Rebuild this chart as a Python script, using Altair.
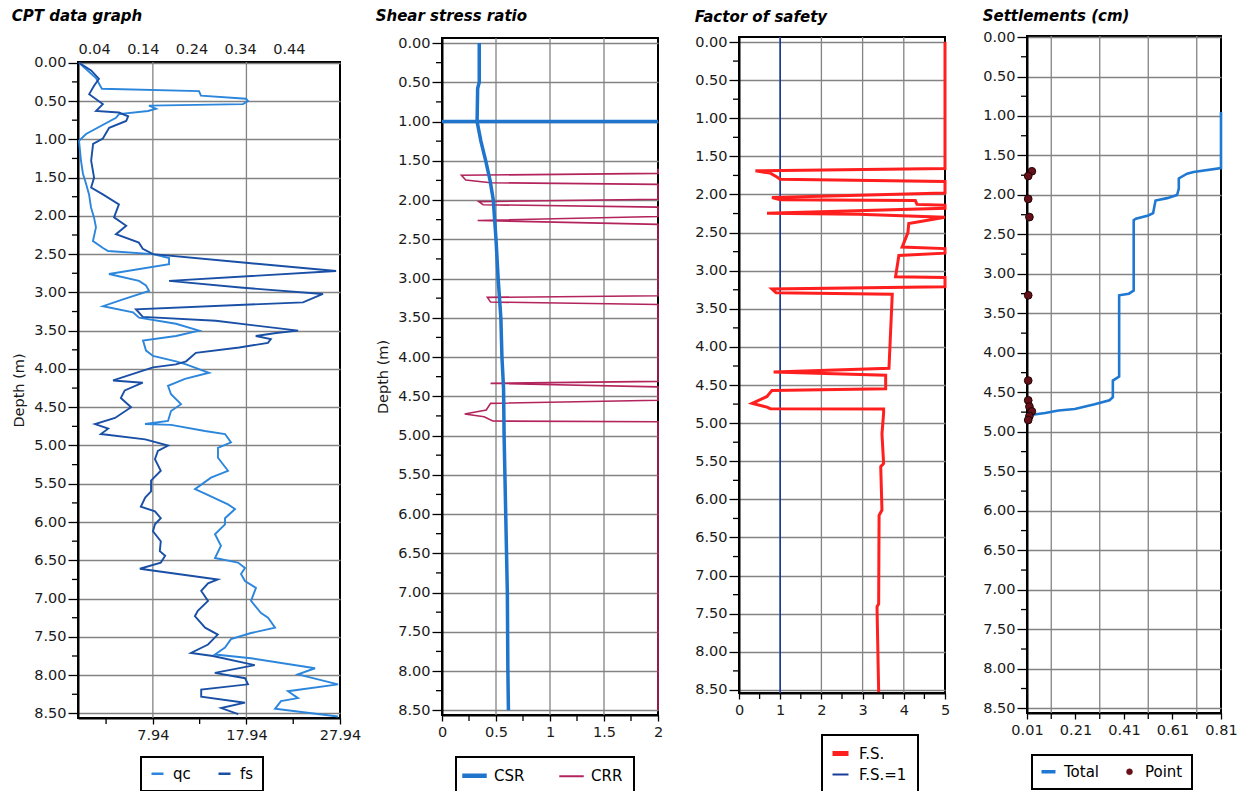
import altair as alt
import pandas as pd

FONT = "DejaVu Sans"
GRID = "#838383"

# ---------------- shared depth ticks ----------------
depth_major = [0.0, 0.5, 1.0, 1.5, 2.0, 2.5, 3.0, 3.5, 4.0, 4.5, 5.0, 5.5, 6.0, 6.5, 7.0, 7.5, 8.0, 8.5]
depth_minor = [0.25, 0.75, 1.25, 1.75, 2.25, 2.75, 3.25, 3.75, 4.25, 4.75, 5.25, 5.75, 6.25, 6.75, 7.25, 7.75, 8.25]

# ---------------- CPT data graph ----------------
qc_depth = [0.00, 0.20, 0.32, 0.34, 0.37, 0.43, 0.47, 0.50, 0.54, 0.56, 0.60, 0.63, 0.67, 0.72, 0.93, 1.02, 1.28, 1.45,
            1.58, 1.72, 1.89, 2.02, 2.15, 2.33, 2.42, 2.46, 2.50, 2.55, 2.63, 2.76, 2.85, 2.91, 2.98, 3.09, 3.18, 3.26,
            3.33, 3.41, 3.50, 3.57, 3.63, 3.76, 3.83, 3.90, 3.94, 4.05, 4.13, 4.22, 4.33, 4.46, 4.55, 4.68, 4.72, 4.73,
            4.81, 4.85, 4.96, 5.03, 5.16, 5.33, 5.42, 5.57, 5.63, 5.77, 5.83, 5.95, 6.03, 6.16, 6.31, 6.47, 6.53, 6.60,
            6.68, 6.77, 6.86, 7.03, 7.19, 7.25, 7.38, 7.45, 7.53, 7.64, 7.73, 7.78, 7.91, 7.99, 8.12, 8.21, 8.30, 8.34,
            8.44, 8.54]
qc_value = [0.05, 1.86, 2.40, 2.50, 12.87, 13.08, 17.89, 18.11, 17.57, 7.53, 8.28, 7.42, 4.32, 4.00, 0.80, 0.05, 0.26,
            0.47, 0.80, 1.12, 1.33, 1.65, 1.86, 1.54, 2.61, 3.15, 7.95, 9.67, 9.67, 3.25, 6.46, 7.21, 7.53, 4.75, 2.61,
            5.82, 6.46, 10.41, 12.87, 10.41, 6.89, 7.21, 7.96, 10.41, 11.48, 13.94, 11.37, 9.56, 9.88, 10.95, 9.88,
            9.56, 7.10, 9.88, 13.51, 15.65, 16.29, 14.90, 14.90, 15.97, 14.15, 12.44, 13.51, 15.97, 16.72, 15.65,
            15.65, 14.58, 15.22, 14.58, 17.04, 17.79, 17.36, 17.79, 18.96, 18.43, 19.50, 20.25, 21.00, 18.43, 16.29,
            15.65, 14.58, 18.43, 25.27, 23.45, 27.73, 22.38, 23.45, 21.63, 21.00, 27.73]
fs_depth = [0.00, 0.10, 0.21, 0.30, 0.41, 0.54, 0.63, 0.65, 0.70, 0.76, 0.85, 0.99, 1.06, 1.28, 1.50, 1.63, 1.72, 1.85,
            2.02, 2.13, 2.24, 2.35, 2.43, 2.50, 2.61, 2.72, 2.85, 2.94, 3.02, 3.13, 3.22, 3.32, 3.37, 3.50, 3.53, 3.57,
            3.61, 3.66, 3.72, 3.79, 3.90, 3.94, 3.98, 4.15, 4.18, 4.28, 4.38, 4.50, 4.64, 4.72, 4.78, 4.85, 4.92, 5.00,
            5.07, 5.18, 5.33, 5.46, 5.60, 5.68, 5.80, 5.86, 5.95, 6.03, 6.12, 6.25, 6.38, 6.44, 6.53, 6.61, 6.75, 6.80,
            6.90, 7.03, 7.16, 7.23, 7.38, 7.47, 7.60, 7.71, 7.75, 7.87, 7.97, 8.04, 8.12, 8.19, 8.28, 8.36, 8.43, 8.51]
fs_value = [0.009, 0.034, 0.050, 0.040, 0.030, 0.058, 0.044, 0.091, 0.110, 0.106, 0.071, 0.058, 0.038, 0.034, 0.040,
            0.034, 0.058, 0.091, 0.081, 0.106, 0.085, 0.132, 0.140, 0.161, 0.346, 0.537, 0.194, 0.346, 0.510, 0.469,
            0.126, 0.140, 0.290, 0.459, 0.414, 0.372, 0.403, 0.397, 0.338, 0.249, 0.229, 0.208, 0.161, 0.079, 0.140,
            0.103, 0.095, 0.116, 0.083, 0.042, 0.069, 0.054, 0.145, 0.192, 0.171, 0.165, 0.177, 0.157, 0.157, 0.145,
            0.136, 0.165, 0.177, 0.165, 0.161, 0.177, 0.175, 0.186, 0.177, 0.134, 0.294, 0.274, 0.260, 0.274, 0.253,
            0.247, 0.268, 0.294, 0.274, 0.239, 0.284, 0.370, 0.288, 0.350, 0.356, 0.260, 0.260, 0.350, 0.301, 0.336]
qc_domain = [-0.06, 27.94]
qc_ticks = [7.94, 17.94, 27.94]
qc_minor = [2.94, 12.94, 22.94]
qc_grid = [7.94, 17.94]
fs_domain = [0.007, 0.545]
fs_ticks = [0.04, 0.14, 0.24, 0.34, 0.44]

# ---------------- Shear stress ratio ----------------
csr_depth = [0.00, 0.50, 0.58, 1.00, 1.25, 1.50, 1.75, 2.00, 2.30, 2.50, 3.00, 3.50, 4.00, 4.40, 5.00, 6.00, 7.00, 8.00, 8.50]
csr_value = [0.345, 0.345, 0.33, 0.325, 0.36, 0.405, 0.445, 0.475, 0.49, 0.50, 0.52, 0.545, 0.555, 0.57, 0.575, 0.59,
             0.605, 0.61, 0.615]
crr_depth = [1.60, 1.66, 1.685, 1.745, 1.78, 1.80, 1.99, 2.02, 2.06, 2.09, 2.21, 2.26, 2.31, 3.22, 3.24, 3.30, 3.33,
             4.31, 4.335, 4.38, 4.55, 4.59, 4.675, 4.725, 4.76, 4.815, 4.825, 8.50]
crr_value = [2, 2, 0.18, 0.22, 0.45, 2, 2, 0.34, 0.38, 2, 2, 0.33, 2, 2, 0.42, 0.45, 2, 2, 0.45, 2, 2, 0.45, 0.41, 0.21,
             0.39, 0.47, 2, 2]
gwt_depth = [1.0]
ssr_domain = [0, 2]
ssr_ticks = [0, 0.5, 1, 1.5, 2]
ssr_minor = [0.25, 0.75, 1.25, 1.75]
ssr_grid = [0.5, 1, 1.5]

# ---------------- Factor of safety ----------------
fos_depth = [0.0, 1.66, 1.69, 1.72, 1.77, 1.80, 1.83, 1.98, 2.04, 2.07, 2.08, 2.13, 2.14, 2.18, 2.245, 2.26, 2.30, 2.38,
             2.50, 2.69, 2.71, 2.77, 2.80, 3.08, 3.09, 3.21, 3.24, 3.29, 3.31, 4.28, 4.33, 4.37, 4.55, 4.57, 4.65, 4.74,
             4.79, 4.81, 4.815, 4.87, 5.14, 5.53, 5.57, 6.14, 6.21, 7.37, 7.41, 8.53]
fos_value = [5, 5, 0.4, 0.76, 0.92, 1.0, 5, 5, 0.8, 1.0, 4.28, 4.32, 5, 5, 0.68, 2.9, 5, 4.12, 4.1, 3.96, 5, 5, 3.88, 3.8,
             5, 5, 0.8, 0.9, 3.72, 3.64, 0.84, 3.56, 3.56, 0.8, 0.68, 0.32, 0.68, 0.76, 3.51, 3.51, 3.47, 3.51, 3.44,
             3.47, 3.40, 3.39, 3.35, 3.39]
fos1_depth = [-0.066, 8.54]
fos1_value = [1, 1]
fos_domain = [0, 5]
fos_ticks = [0, 1, 2, 3, 4, 5]
fos_minor = [0.5, 1.5, 2.5, 3.5, 4.5]
fos_grid = [1, 2, 3, 4]

# ---------------- Settlements ----------------
total_depth = [0.95, 1.66, 1.71, 1.73, 1.79, 1.92, 2.00, 2.04, 2.07, 2.23, 2.26, 2.30, 2.32, 3.21, 3.25, 3.27, 4.30,
               4.35, 4.56, 4.60, 4.65, 4.71, 4.73, 4.76, 4.79, 4.82]
total_value = [0.81, 0.81, 0.697, 0.67, 0.636, 0.636, 0.629, 0.588, 0.54, 0.53, 0.51, 0.459, 0.45, 0.45, 0.43, 0.39,
               0.39, 0.364, 0.364, 0.35, 0.289, 0.207, 0.14, 0.085, 0.017, 0.01]
point_depth = [1.70, 1.76, 2.05, 2.28, 3.27, 4.35, 4.60, 4.68, 4.74, 4.80, 4.85]
point_value = [0.03, 0.015, 0.015, 0.02, 0.015, 0.015, 0.015, 0.02, 0.03, 0.02, 0.015]
set_domain = [0.01, 0.81]
set_ticks = [0.01, 0.21, 0.41, 0.61, 0.81]
set_minor = [0.11, 0.31, 0.51, 0.71]
set_grid = [0.11, 0.31, 0.51, 0.71]

# colours
QC_C, FS_C = "#2c86dc", "#1a4fa6"
CSR_C, CRR_C = "#1f74cc", "#b3245c"
FOS_C, ONE_C = "#ff1f1f", "#1a3c98"
TOT_C, PT_C = "#1f78d1", "#661019"


def series(depth, value, name):
    assert len(depth) == len(value)
    return pd.DataFrame({"d": depth, "v": value, "s": name, "i": list(range(len(depth)))})


def vals(v):
    return pd.DataFrame({"v": v})


def ydf(v):
    return pd.DataFrame({"d": v})


def yscale(domain):
    return alt.Scale(domain=domain, reverse=True, nice=False, zero=False)


def yaxis(title):
    return alt.Axis(values=depth_major, format=".2f", grid=True, title=title, tickSize=10)


def xscale(domain):
    return alt.Scale(domain=domain, nice=False, zero=False)


def title_params(text, offset):
    return alt.TitleParams(text=text, anchor="start", font=FONT, fontSize=15, fontWeight="bold",
                           fontStyle="italic", color="black", offset=offset)


def base_layers(ydom, ytitle, xdom, xgrid, xminor, H, xaxis):
    ys = yscale(ydom)
    xs = xscale(xdom)
    grid = alt.Chart(vals(xgrid)).mark_rule(color=GRID, strokeWidth=1.3).encode(
        x=alt.X("v:Q", scale=xs, axis=xaxis))
    ymin = alt.Chart(ydf(depth_minor)).mark_rule(color="black", strokeWidth=1.3).encode(
        y=alt.Y("d:Q", scale=ys, axis=yaxis(ytitle)), x=alt.value(0), x2=alt.value(-6))
    xmin = alt.Chart(vals(xminor)).mark_rule(color="black", strokeWidth=1.3).encode(
        x=alt.X("v:Q", scale=xs, axis=xaxis), y=alt.value(H), y2=alt.value(H + 6))
    return ys, xs, [grid, ymin, xmin]


def legend(x, y, cols, direction, padding=9, offset=8, colpad=22, rowpad=6, **kw):
    return alt.Legend(title=None, orient="none", legendX=x, legendY=y, columns=cols, direction=direction,
                      strokeColor="black", fillColor="white", padding=padding, labelFont=FONT, labelFontSize=15,
                      labelColor="black", columnPadding=colpad, labelOffset=offset,
                      rowPadding=rowpad, **kw)


def wrap(panel):
    spacer = alt.Chart(pd.DataFrame({"z": [0]})).mark_point(opacity=0, size=0).encode(
        x=alt.value(0), y=alt.value(0)).properties(width=1, height=1,
                                                   view=alt.ViewBackground(stroke="transparent"))
    return alt.vconcat(spacer, panel, spacing=0)


# ---------- Panel 1 ----------
W1, H1 = 262, 656
ys1, xs1, base1 = base_layers([-0.01, 8.56], "Depth (m)", qc_domain, qc_grid, qc_minor, H1, None)
cs1 = alt.Scale(domain=["qc", "fs"], range=[QC_C, FS_C])
leg1 = legend(63, 751, 2, "horizontal", symbolSize=144, symbolType="stroke", symbolStrokeWidth=2.5)
qc_line = alt.Chart(series(qc_depth, qc_value, "qc")).mark_line(strokeWidth=1.9).encode(
    x=alt.X("v:Q", scale=xs1, axis=alt.Axis(values=qc_ticks, format=".2f", grid=False, title=None, tickSize=6)),
    y=alt.Y("d:Q", scale=ys1, axis=yaxis("Depth (m)")),
    order="i:Q",
    color=alt.Color("s:N", scale=cs1, legend=leg1))
fs_line = alt.Chart(series(fs_depth, fs_value, "fs")).mark_line(strokeWidth=1.9).encode(
    x=alt.X("v:Q", scale=xscale(fs_domain),
            axis=alt.Axis(orient="top", values=fs_ticks, format=".2f", grid=False, ticks=False, domain=False,
                          title=None, labelPadding=6)),
    y=alt.Y("d:Q", scale=ys1, axis=yaxis("Depth (m)")),
    order="i:Q",
    color=alt.Color("s:N", scale=cs1, legend=leg1))
p1 = alt.layer(*base1, qc_line, fs_line).resolve_scale(x="independent").properties(
    width=W1, height=H1, title=title_params("CPT data graph", 17))

# ---------- Panel 2 ----------
W2, H2 = 216, 677
xax2 = alt.Axis(values=ssr_ticks, format="~g", grid=False, title=None, tickSize=6)
ys2, xs2, base2 = base_layers([-0.064, 8.56], "Depth (m)", ssr_domain, ssr_grid, ssr_minor, H2, xax2)
cs2 = alt.Scale(domain=["CSR", "CRR"], range=[CSR_C, CRR_C])
leg2 = legend(14, 751, 2, "horizontal", padding=11, offset=12, colpad=30, symbolSize=600, symbolType="stroke",
              symbolStrokeWidth=alt.ExprRef("datum.value === 'CSR' ? 4.5 : 2"))
gwt = alt.Chart(ydf(gwt_depth)).mark_rule(color=CSR_C, strokeWidth=3.5).encode(
    y=alt.Y("d:Q", scale=ys2, axis=yaxis("Depth (m)")))
crr_line = alt.Chart(series(crr_depth, crr_value, "CRR")).mark_line(strokeWidth=1.6).encode(
    x=alt.X("v:Q", scale=xs2, axis=xax2),
    y=alt.Y("d:Q", scale=ys2, axis=yaxis("Depth (m)")),
    order="i:Q",
    color=alt.Color("s:N", scale=cs2, legend=leg2))
csr_line = alt.Chart(series(csr_depth, csr_value, "CSR")).mark_line(strokeWidth=3.5).encode(
    x=alt.X("v:Q", scale=xs2, axis=xax2),
    y=alt.Y("d:Q", scale=ys2, axis=yaxis("Depth (m)")),
    order="i:Q",
    color=alt.Color("s:N", scale=cs2, legend=leg2))
p2 = alt.layer(*base2, gwt, crr_line, csr_line).properties(
    width=W2, height=H2, title=title_params("Shear stress ratio", 11))

# ---------- Panel 3 ----------
W3, H3 = 206, 656
xax3 = alt.Axis(values=fos_ticks, format="d", grid=False, title=None, tickSize=6)
ys3, xs3, base3 = base_layers([-0.066, 8.54], None, fos_domain, fos_grid, fos_minor, H3, xax3)
cs3 = alt.Scale(domain=["F.S.", "F.S.=1"], range=[FOS_C, ONE_C])
leg3 = legend(83, 729, 1, "vertical", padding=11, offset=11, rowpad=3, symbolSize=256, symbolType="stroke",
              symbolStrokeWidth=alt.ExprRef("datum.value === 'F.S.' ? 5 : 2"))
one_line = alt.Chart(series(fos1_depth, fos1_value, "F.S.=1")).mark_line(strokeWidth=1.6).encode(
    x=alt.X("v:Q", scale=xs3, axis=xax3),
    y=alt.Y("d:Q", scale=ys3, axis=yaxis(None)),
    order="i:Q",
    color=alt.Color("s:N", scale=cs3, legend=leg3))
fos_line = alt.Chart(series(fos_depth, fos_value, "F.S.")).mark_line(strokeWidth=3).encode(
    x=alt.X("v:Q", scale=xs3, axis=xax3),
    y=alt.Y("d:Q", scale=ys3, axis=yaxis(None)),
    order="i:Q",
    color=alt.Color("s:N", scale=cs3, legend=leg3))
p3 = alt.layer(*base3, one_line, fos_line).properties(
    width=W3, height=H3, title=title_params("Factor of safety", 9))

# ---------- Panel 4 ----------
W4, H4 = 194, 677
xax4 = alt.Axis(values=set_ticks, format=".2f", grid=False, title=None, tickSize=6)
ys4, xs4, base4 = base_layers([-0.013, 8.56], None, set_domain, set_grid, set_minor, H4, xax4)
cs4 = alt.Scale(domain=["Total", "Point"], range=[TOT_C, PT_C])
leg4 = legend(5, 749, 2, "horizontal",
              symbolType=alt.ExprRef("datum.value === 'Point' ? 'circle' : 'stroke'"),
              symbolSize=alt.ExprRef("datum.value === 'Point' ? 36 : 196"),
              symbolFillColor=alt.ExprRef("datum.value === 'Point' ? '" + PT_C + "' : 'transparent'"),
              symbolStrokeColor=alt.ExprRef("datum.value === 'Point' ? '" + PT_C + "' : '" + TOT_C + "'"),
              symbolStrokeWidth=alt.ExprRef("datum.value === 'Point' ? 0.5 : 3.5"))
tot_line = alt.Chart(series(total_depth, total_value, "Total")).mark_line(strokeWidth=2.6).encode(
    x=alt.X("v:Q", scale=xs4, axis=xax4),
    y=alt.Y("d:Q", scale=ys4, axis=yaxis(None)),
    order="i:Q",
    color=alt.Color("s:N", scale=cs4, legend=leg4))
pts = alt.Chart(series(point_depth, point_value, "Point")).mark_point(
    filled=True, size=60, stroke="#220505", strokeWidth=1, opacity=1).encode(
    x=alt.X("v:Q", scale=xs4, axis=xax4),
    y=alt.Y("d:Q", scale=ys4, axis=yaxis(None)),
    color=alt.Color("s:N", scale=cs4, legend=leg4))
p4 = alt.layer(*base4, tot_line, pts).properties(
    width=W4, height=H4, title=title_params("Settlements (cm)", 5))

inner = alt.concat(wrap(p2), wrap(p3), wrap(p4), columns=3, align="none", spacing=29).resolve_scale(
    color="independent")
chart = alt.concat(wrap(p1), inner, columns=2, align="none", spacing=12).resolve_scale(
    color="independent").configure(
    padding={"left": 2, "top": -3, "right": 0, "bottom": 0}
).configure_view(
    stroke="black", strokeWidth=2
).configure_legend(
    strokeWidth=2
).configure_axis(
    labelFont=FONT, labelFontSize=14.5, labelColor="#1a1a1a", titleFont=FONT, titleFontSize=14.5,
    titleFontWeight="normal", titleColor="#1a1a1a", tickColor="black", domainColor="black", domainWidth=2,
    tickWidth=1.3, gridColor=GRID, gridWidth=1.3, labelPadding=2, titlePadding=7, labelFlush=False,
    labelOverlap=False
).configure_axisX(labelPadding=4)

chart.save("out.html", embed_options={"renderer": "svg", "actions": False})
